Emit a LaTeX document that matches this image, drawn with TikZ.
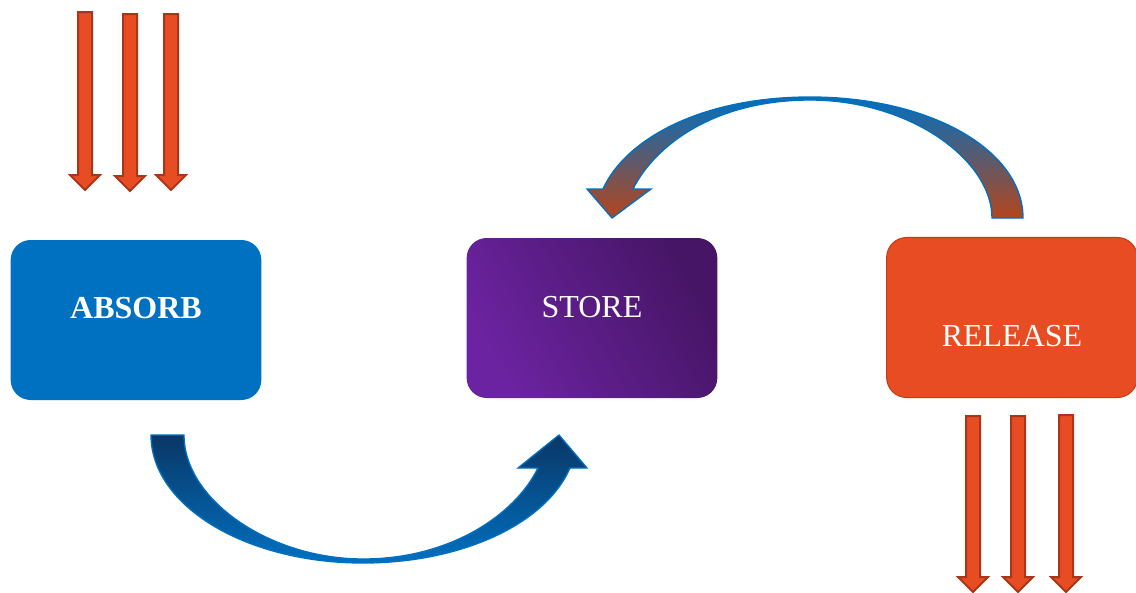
\documentclass[tikz,border=0pt]{standalone}
\usepackage{fontspec}
\setmainfont{Liberation Serif}

\definecolor{absorbblue}{HTML}{0070C0}
\definecolor{storelight}{HTML}{6C23A1}
\definecolor{storedark}{HTML}{461565}
\definecolor{releaseorange}{HTML}{E84C22}
\definecolor{releaseedge}{HTML}{C23F1C}
\definecolor{raydark}{HTML}{A9351A}
\definecolor{loopnavy}{HTML}{0A3766}
\definecolor{loopbrown}{HTML}{B4451C}

\tikzset{
  box/.style={rounded corners=15pt, minimum width=188pt, minimum height=120pt, inner sep=0pt},
  boxtext/.style={text=white, font=\fontsize{24}{28}\selectfont},
  ray/.style={fill=releaseorange, draw=raydark, line width=1.5pt, line join=miter},
  loop/.style={draw=absorbblue, line width=1pt}
}

\begin{document}
\begin{tikzpicture}[x=0.75pt,y=0.75pt,yscale=-1,xscale=1]
\useasboundingbox (0,0) rectangle (1136,593);

% incoming rays
\foreach \x/\t/\b in {85/12/190, 130/14/191, 171/14/190}
  \draw[ray] (\x-7,\t) -- (\x+7,\t) -- (\x+7,\b-15) -- (\x+15,\b-15) -- (\x,\b) -- (\x-15,\b-15) -- (\x-7,\b-15) -- cycle;

% boxes
\node[box, fill=absorbblue] (absorb) at (136,320) {};
\node[boxtext, font=\fontsize{24}{28}\selectfont\bfseries] (absorblabel) at (136,308) {ABSORB};

\node[box, left color=storelight, right color=storedark, shading angle=120] (store) at (592,318) {};
\node[boxtext] (storelabel) at (592,307) {STORE};

\node[box, fill=releaseorange, draw=releaseedge, line width=0.8pt] (release) at (1012,317.5) {};
\node[boxtext] (releaselabel) at (1012,336) {RELEASE};

% outgoing rays
\foreach \x/\t/\b in {973/416/592, 1018/416/592, 1066/415/592}
  \draw[ray] (\x-7,\t) -- (\x+7,\t) -- (\x+7,\b-15) -- (\x+15,\b-15) -- (\x,\b) -- (\x-15,\b-15) -- (\x-7,\b-15) -- cycle;

% absorb to store
\path[loop, top color=loopnavy, bottom color=absorbblue] (151,435) .. controls (151,506) and (246,563) .. (363,563) .. controls (460,563) and (545,525) .. (570,468) -- (587,468) -- (559,435) -- (518,468) -- (538,468) .. controls (515,515) and (450,559) .. (363,559) .. controls (270,559) and (184,500) .. (184,435) -- cycle;

% release back to store
\path[loop, top color=absorbblue, middle color=absorbblue!92!loopbrown, bottom color=loopbrown] (1023,218) .. controls (1023,150) and (930,97) .. (810,97) .. controls (700,97) and (625,140) .. (603,189) -- (587,189) -- (612,218) -- (651,189) -- (633,189) .. controls (655,145) and (715,100) .. (810,100) .. controls (910,100) and (992,160) .. (992,218) -- cycle;

\end{tikzpicture}
\end{document}
